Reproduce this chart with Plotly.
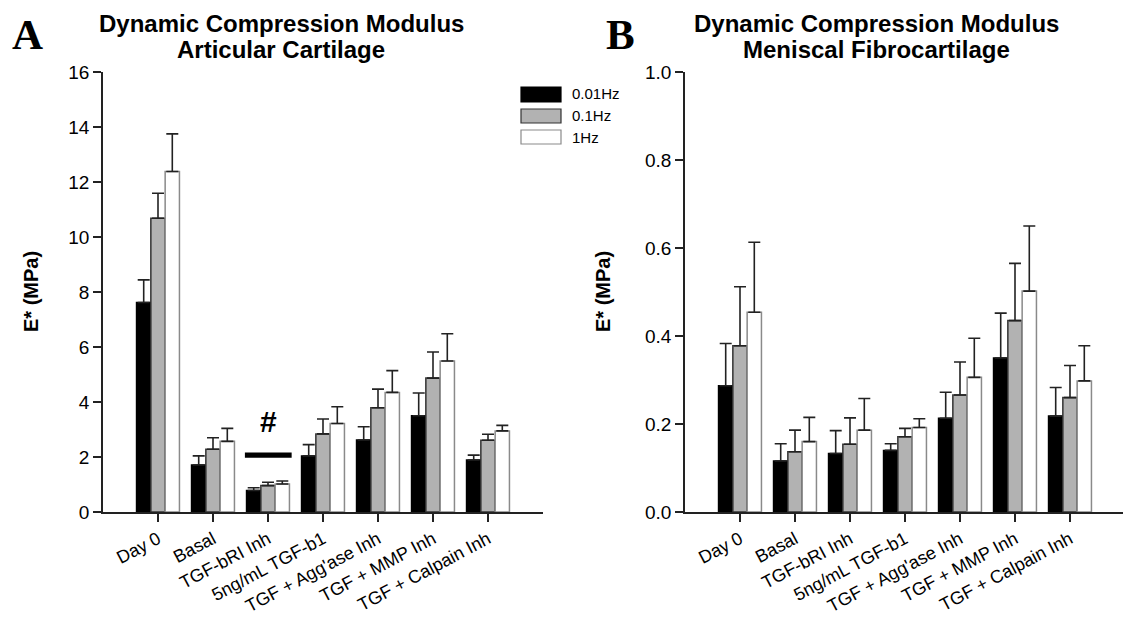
import plotly.graph_objects as go

W, H = 1131, 628
OFF = 8  # page body margin offset in the rendered screenshot

categories = ["Day 0", "Basal", "TGF-bRI Inh", "5ng/mL TGF-b1",
              "TGF + Agg'ase Inh", "TGF + MMP Inh", "TGF + Calpain Inh"]
series_names = ["0.01Hz", "0.1Hz", "1Hz"]

# Panel A: articular cartilage (MPa)
a_001 = [7.62, 1.71, 0.78, 2.04, 2.62, 3.50, 1.89]
a_001_err = [0.82, 0.33, 0.10, 0.41, 0.48, 0.83, 0.18]
a_01 = [10.68, 2.28, 0.96, 2.84, 3.79, 4.87, 2.61]
a_01_err = [0.91, 0.42, 0.12, 0.54, 0.68, 0.95, 0.22]
a_1 = [12.38, 2.57, 1.02, 3.22, 4.35, 5.49, 2.95]
a_1_err = [1.37, 0.47, 0.11, 0.61, 0.79, 0.99, 0.20]

# Panel B: meniscal fibrocartilage (MPa)
b_001 = [0.287, 0.116, 0.133, 0.140, 0.213, 0.350, 0.218]
b_001_err = [0.096, 0.039, 0.052, 0.015, 0.059, 0.102, 0.065]
b_01 = [0.378, 0.137, 0.154, 0.171, 0.266, 0.435, 0.260]
b_01_err = [0.134, 0.049, 0.060, 0.019, 0.075, 0.130, 0.073]
b_1 = [0.454, 0.160, 0.186, 0.192, 0.306, 0.502, 0.298]
b_1_err = [0.159, 0.055, 0.072, 0.020, 0.089, 0.148, 0.080]

a_ticks = [0, 2, 4, 6, 8, 10, 12, 14, 16]
b_ticks = [0.0, 0.2, 0.4, 0.6, 0.8, 1.0]

fills = ["#000000", "#b2b2b2", "#ffffff"]
outlines = ["#000000", "#333333", "#8a8a8a"]
FONT = "Arial, Liberation Sans, sans-serif"

fig = go.Figure()

def add_panel(vals, errs, xa, ya):
    for i in range(3):
        fig.add_trace(go.Bar(
            x=categories, y=vals[i], name=series_names[i],
            xaxis=xa, yaxis=ya, showlegend=False,
            marker=dict(color=fills[i], line=dict(color=outlines[i], width=1.5)),
            error_y=dict(type="data", symmetric=False, array=errs[i],
                         arrayminus=[0] * len(errs[i]),
                         color="#222222", thickness=1.6, width=6),
        ))

add_panel([a_001, a_01, a_1], [a_001_err, a_01_err, a_1_err], "x", "y")
add_panel([b_001, b_01, b_1], [b_001_err, b_01_err, b_1_err], "x2", "y2")

def px_x(p):
    return (p - OFF) / W

def px_y(p):
    return 1 - (p - OFF) / H

ydom = [px_y(512), px_y(72)]
xdomA = [px_x(103), px_x(543)]
xdomB = [px_x(685), px_x(1125)]

axis_common = dict(showline=True, linecolor="#222222", linewidth=1.5,
                   ticks="outside", ticklen=8, tickwidth=1.5, tickcolor="#222222",
                   showgrid=False, zeroline=False, automargin=False,
                   tickfont=dict(family=FONT, size=19, color="#000000"))

xcommon = dict(axis_common)
xcommon.update(type="category", range=[-1, 7], tickangle=-28,
               tickfont=dict(family=FONT, size=18, color="#000000"))

fig.update_layout(
    template="none",
    width=W, height=H,
    margin=dict(l=0, r=0, t=0, b=0, pad=0),
    paper_bgcolor="white", plot_bgcolor="white",
    barmode="group", bargap=0.22, bargroupgap=0,
    showlegend=False,
    xaxis=dict(domain=xdomA, anchor="y", **xcommon),
    yaxis=dict(domain=ydom, anchor="x", range=[0, 16], tickvals=a_ticks, **axis_common),
    xaxis2=dict(domain=xdomB, anchor="y2", **xcommon),
    yaxis2=dict(domain=ydom, anchor="x2", range=[0, 1.0], tickvals=b_ticks,
                tickformat=".1f", **axis_common),
)

annotations = []
# Panel letters
for letter, lx in [("A", 10), ("B", 604)]:
    annotations.append(dict(text="<b>%s</b>" % letter, x=px_x(lx), y=px_y(9), xref="paper", yref="paper",
                            xanchor="left", yanchor="top", showarrow=False,
                            font=dict(family="Liberation Serif, Times New Roman, serif", size=43, color="#000")))
# Titles
for cx, t2 in [(281, "Articular Cartilage"), (876, "Meniscal Fibrocartilage")]:
    annotations.append(dict(text="<b>Dynamic Compression Modulus</b>", x=px_x(cx), y=px_y(23),
                            xref="paper", yref="paper", xanchor="center", yanchor="middle",
                            showarrow=False, font=dict(family=FONT, size=24, color="#000")))
    annotations.append(dict(text="<b>%s</b>" % t2, x=px_x(cx), y=px_y(49),
                            xref="paper", yref="paper", xanchor="center", yanchor="middle",
                            showarrow=False, font=dict(family=FONT, size=24, color="#000")))
# Y labels
for cx in [31, 603]:
    annotations.append(dict(text="<b>E* (MPa)</b>", x=px_x(cx), y=px_y(292), xref="paper", yref="paper",
                            xanchor="center", yanchor="middle", textangle=-90, showarrow=False,
                            font=dict(family=FONT, size=20, color="#000")))
# '#' marker
annotations.append(dict(text="<b>#</b>", x=2, y=3.3, xref="x", yref="y", showarrow=False,
                        xanchor="center", yanchor="middle",
                        font=dict(family=FONT, size=30, color="#000")))
# Legend text
leg_y = [94, 116, 137]
for name, yy in zip(series_names, leg_y):
    annotations.append(dict(text=name, x=px_x(570), y=px_y(yy), xref="paper", yref="paper",
                            xanchor="left", yanchor="middle", showarrow=False,
                            font=dict(family=FONT, size=15, color="#000")))

shapes = []
shapes.append(dict(type="rect", xref="x", yref="y", x0=1.58, x1=2.43, y0=1.97, y1=2.16,
                   fillcolor="#000", line=dict(width=0)))
leg_boxes = [(87, 102), (109, 123), (130, 144)]
for (y0, y1), fc, lc in zip(leg_boxes, fills, outlines):
    shapes.append(dict(type="rect", xref="paper", yref="paper",
                       x0=px_x(521), x1=px_x(561), y0=px_y(y1), y1=px_y(y0),
                       fillcolor=fc, line=dict(color=lc, width=1.2)))

fig.update_layout(annotations=annotations, shapes=shapes)
fig.write_html("out.html")
